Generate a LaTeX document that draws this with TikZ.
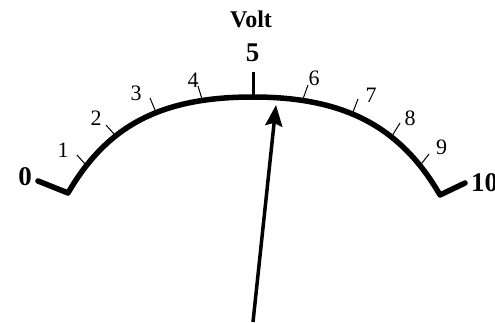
\documentclass[tikz,border=0pt]{standalone}
\usepackage{fontspec}
\setmainfont{Liberation Serif}
\usetikzlibrary{arrows.meta}
\begin{document}
\begin{tikzpicture}[x=1pt,y=-1pt,
  small/.style={inner sep=0pt,font=\fontsize{22}{22}\selectfont},
  big/.style={inner sep=0pt,font=\fontsize{27}{27}\selectfont\bfseries},
  scaleline/.style={line width=5.5pt,line cap=round,line join=round},
  tick/.style={line width=1pt,shorten <=-3pt},
  pointer/.style={line width=3.5pt,-{Stealth[length=21pt,width=17pt,inset=3pt]}}]
\useasboundingbox (0,0) rectangle (495,323);
% points on the arc
\coordinate (e0) at (68,193);
\coordinate (t1) at (85,164);
\coordinate (t2) at (114,134);
\coordinate (t3) at (155,110);
\coordinate (t4) at (202,99);
\coordinate (t5) at (253,97);
\coordinate (t6) at (303,99);
\coordinate (t7) at (353,112);
\coordinate (t8) at (392,136);
\coordinate (t9) at (422,163);
\coordinate (e10) at (440,195);
% outer tick ends
\coordinate (o1) at (77,155);
\coordinate (o2) at (106,125);
\coordinate (o3) at (150,98);
\coordinate (o4) at (198,86);
\coordinate (o5) at (253,72);
\coordinate (o6) at (308,85);
\coordinate (o7) at (358,99);
\coordinate (o8) at (400,123);
\coordinate (o9) at (429,154);
% bracket ends
\coordinate (b0) at (38,181);
\coordinate (b10) at (465,183);
% ticks
\foreach \i in {1,2,3,4,6,7,8,9} \draw[tick] (t\i) -- (o\i);
\draw[line width=3pt] (t5) -- (o5);
% scale
\draw[scaleline] (b0) -- (e0) .. controls (108,124) and (163,97) .. (t5)
  .. controls (343,97) and (400,125.7) .. (e10) -- (b10);
% labels
\node[big] (l0) at (25,177) {0};
\node[small] (l1) at (63,150) {1};
\node[small] (l2) at (96,118) {2};
\node[small] (l3) at (136,93) {3};
\node[small] (l4) at (193,80) {4};
\node[big] (l5) at (252.5,52.5) {5};
\node[small] (l6) at (314,78) {6};
\node[small] (l7) at (371,95) {7};
\node[small] (l8) at (410,118) {8};
\node[small] (l9) at (441.5,147.5) {9};
\node[big,anchor=west] (l10) at (471,182.5) {10};
\node[inner sep=0pt,font=\fontsize{24}{24}\selectfont\bfseries,anchor=base] (volt) at (251,28) {Volt};
% pointer
\coordinate (pb) at (253,322);
\coordinate (pt) at (276,105);
\draw[pointer] (pb) -- (pt);
\end{tikzpicture}
\end{document}
